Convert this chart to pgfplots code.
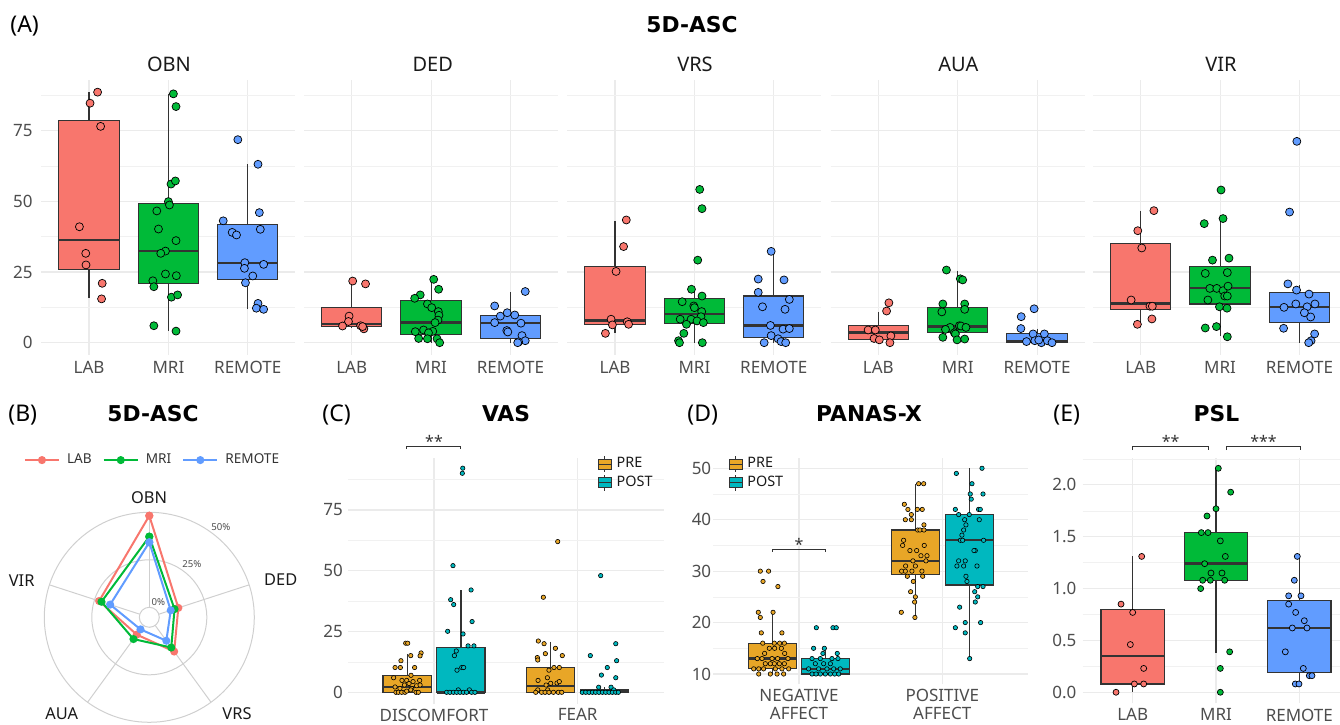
\documentclass[border=0pt]{standalone}
\usepackage{fontspec}
\setmainfont{Noto Sans}
\newfontfamily\tfont{DejaVu Sans}
\usepackage{pgfplots}
\pgfplotsset{compat=1.18}
\usepgfplotslibrary{statistics}
\definecolor{LABc}{HTML}{F8766D}
\definecolor{MRIc}{HTML}{00BA38}
\definecolor{REMc}{HTML}{619CFF}
\definecolor{PREc}{HTML}{E8A627}
\definecolor{POSTc}{HTML}{00B8BF}
\definecolor{gridc}{HTML}{EBEBEB}
\definecolor{tickc}{HTML}{4D4D4D}
\definecolor{boxc}{HTML}{333333}
\definecolor{circc}{HTML}{CFCFCF}
\definecolor{titc}{HTML}{1A1A1A}
\pgfplotsset{
 base/.style={scale only axis, clip=false,
   axis line style={draw=none}, tick style={draw=none}, major tick length=0pt, minor tick length=0pt,
   xmajorgrids, ymajorgrids, yminorgrids,
   major grid style={draw=gridc, line width=0.55pt},
   minor grid style={draw=gridc!70!white, line width=0.3pt},
   tick label style={font=\fontsize{8.5}{10}\selectfont, text=tickc},
   xticklabel style={anchor=north, inner sep=0pt},
   yticklabel style={anchor=east, inner sep=0pt},
   boxplot/draw direction=y,
   boxplot/every median/.style={line width=1.2pt},
 },
 bx/.style={forget plot, fill=#1, draw=boxc, line width=0.55pt},
 pts/.style={forget plot, only marks, mark=*, mark size=2pt, mark options={fill=#1, draw=black, line width=0.35pt}},
 spts/.style={forget plot, only marks, mark=*, mark size=1.1pt, mark options={fill=#1, draw=black, line width=0.3pt}},
 mpts/.style={forget plot, only marks, mark=*, mark size=1.5pt, mark options={fill=#1, draw=black, line width=0.35pt}},
 preleg/.style={legend image code/.code={\draw[fill=PREc,draw=boxc,line width=0.4pt] (0pt,-2.5pt) rectangle (6.5pt,2.5pt); \draw[boxc,line width=0.4pt] (0pt,0pt)--(6.5pt,0pt) (3.25pt,2.5pt)--(3.25pt,4pt) (3.25pt,-2.5pt)--(3.25pt,-4pt);}},
 postleg/.style={legend image code/.code={\draw[fill=POSTc,draw=boxc,line width=0.4pt] (0pt,-2.5pt) rectangle (6.5pt,2.5pt); \draw[boxc,line width=0.4pt] (0pt,0pt)--(6.5pt,0pt) (3.25pt,2.5pt)--(3.25pt,4pt) (3.25pt,-2.5pt)--(3.25pt,-4pt);}},
 boxleg/.style={legend style={draw=none, fill=none, inner sep=0pt, font=\fontsize{7.2}{8}\selectfont, text=titc, row sep=0.5pt, nodes={inner sep=1pt}, /tikz/every odd column/.append style={column sep=1.5pt}}, legend cell align=left},
 top/.style={base, anchor=south west, width=127pt, height=137.5pt,
   xmin=-0.6, xmax=2.6, ymin=-4.35, ymax=92.9, xtick={0,1,2}, xticklabels={LAB,MRI,REMOTE},
   ytick={0,25,50,75}, minor ytick={12.5,37.5,62.5,87.5},
   xticklabel style={yshift=-2.85pt}, yticklabel style={xshift=-4.2pt}},
}
\newcommand{\ffacet}{\fontsize{10}{12}\selectfont}
\newcommand{\fbold}{\tfont\fontsize{10.9}{13}\selectfont\bfseries}
\newcommand{\fletter}{\fontsize{11.5}{13}\selectfont}
\begin{document}
\begin{tikzpicture}
\useasboundingbox (0,0) rectangle (670pt,362pt);
% titles
\node[anchor=base west, inner sep=0pt, font=\fletter] at (5pt,345.5pt) {(A)};
\node[anchor=base, inner sep=0pt, font=\fbold] at (346pt,345.5pt) {5D-ASC};
\node[anchor=base, inner sep=0pt, font=\ffacet, text=titc] at (84.5pt,326.15pt) {OBN};
\node[anchor=base, inner sep=0pt, font=\ffacet, text=titc] at (216.35pt,326.15pt) {DED};
\node[anchor=base, inner sep=0pt, font=\ffacet, text=titc] at (347.5pt,326.15pt) {VRS};
\node[anchor=base, inner sep=0pt, font=\ffacet, text=titc] at (479.15pt,326.15pt) {AUA};
\node[anchor=base, inner sep=0pt, font=\ffacet, text=titc] at (610.5pt,326.15pt) {VIR};
\node[anchor=base west, inner sep=0pt, font=\fletter] at (4pt,151pt) {(B)};
\node[anchor=base, inner sep=0pt, font=\fbold] at (76.5pt,151pt) {5D-ASC};
\node[anchor=base west, inner sep=0pt, font=\fletter] at (161pt,151pt) {(C)};
\node[anchor=base, inner sep=0pt, font=\fbold] at (253pt,151pt) {VAS};
\node[anchor=base west, inner sep=0pt, font=\fletter] at (343.5pt,151pt) {(D)};
\node[anchor=base, inner sep=0pt, font=\fbold] at (434.5pt,151pt) {PANAS-X};
\node[anchor=base west, inner sep=0pt, font=\fletter] at (526.5pt,151pt) {(E)};
\node[anchor=base, inner sep=0pt, font=\fbold] at (608.25pt,151pt) {PSL};

% ---------- OBN ----------
\begin{axis}[top, at={(20.7pt,184.5pt)}, yticklabels={0,25,50,75}]
\addplot[bx=LABc, boxplot prepared={draw position=0, box extend=0.76, whisker extend=0, lower whisker=15.7, lower quartile=25.95, median=36.3, upper quartile=78.5, upper whisker=88.6}] coordinates {};
\addplot[bx=MRIc, boxplot prepared={draw position=1, box extend=0.76, whisker extend=0, lower whisker=4.2, lower quartile=20.9, median=32.5, upper quartile=49.3, upper whisker=88.0}] coordinates {};
\addplot[bx=REMc, boxplot prepared={draw position=2, box extend=0.76, whisker extend=0, lower whisker=11.8, lower quartile=22.4, median=28.1, upper quartile=41.7, upper whisker=63.1}] coordinates {};
\addplot[pts=LABc] coordinates {(0.108,88.6)(0.013,84.7)(0.146,76.5)(-0.121,41.0)(-0.041,31.6)(-0.038,27.5)(0.166,21.0)(0.158,15.5)};
\addplot[pts=MRIc] coordinates {(1.063,88.0)(1.096,83.5)(1.033,56.1)(1.088,57.2)(1.0,49.9)(1.013,48.7)(0.854,46.6)(0.875,40.2)(1.096,36.1)(0.963,32.4)(0.904,31.6)(0.963,24.3)(1.1,23.7)(0.804,21.9)(0.817,19.8)(1.038,16.1)(1.116,16.9)(0.817,6.0)(1.096,4.1)};
\addplot[pts=REMc] coordinates {(1.875,71.8)(2.129,63.1)(2.146,46.0)(1.691,43.1)(1.804,39.0)(1.858,38.1)(2.158,40.1)(1.963,28.3)(1.958,26.3)(2.2,27.7)(2.063,23.6)(1.971,21.2)(2.129,13.9)(2.108,12.2)(2.2,11.8)};
\end{axis}
% ---------- DED ----------
\begin{axis}[top, at={(152.05pt,184.5pt)}, yticklabels={,,,}]
\addplot[bx=LABc, boxplot prepared={draw position=0, box extend=0.76, whisker extend=0, lower whisker=5.3, lower quartile=5.7, median=6.6, upper quartile=12.4, upper whisker=22.2}] coordinates {};
\addplot[bx=MRIc, boxplot prepared={draw position=1, box extend=0.76, whisker extend=0, lower whisker=0, lower quartile=2.9, median=7.1, upper quartile=14.8, upper whisker=22.5}] coordinates {};
\addplot[bx=REMc, boxplot prepared={draw position=2, box extend=0.76, whisker extend=0, lower whisker=0, lower quartile=1.5, median=7.0, upper quartile=9.7, upper whisker=17.8}] coordinates {};
\addplot[pts=LABc] coordinates {(0.012,21.8)(0.174,20.8)(-0.033,9.4)(-0.041,7.5)(-0.116,5.9)(0.112,6.0)(0.153,4.9)(0.137,5.7)};
\addplot[pts=MRIc] coordinates {(1.033,22.4)(1.095,18.9)(0.863,16.9)(0.793,15.7)(0.954,13.7)(1.008,12.4)(1.091,11.0)(1.099,9.7)(1.087,8.0)(1.05,7.1)(0.905,4.5)(0.801,3.9)(1.021,4.0)(0.967,3.5)(0.843,1.5)(0.954,1.4)(1.075,1.4)(1.108,0.0)};
\addplot[pts=REMc] coordinates {(2.186,18.1)(1.801,13.0)(1.872,9.4)(1.959,10.6)(2.054,9.8)(1.801,7.1)(2.132,6.9)(1.954,4.3)(1.967,3.8)(2.145,2.5)(2.186,0.7)(2.103,0.3)(2.091,0)};
\end{axis}
% ---------- VRS ----------
\begin{axis}[top, at={(283.7pt,184.5pt)}, yticklabels={,,,}]
\addplot[bx=LABc, boxplot prepared={draw position=0, box extend=0.76, whisker extend=0, lower whisker=3.6, lower quartile=6.3, median=7.8, upper quartile=27.1, upper whisker=43.1}] coordinates {};
\addplot[bx=MRIc, boxplot prepared={draw position=1, box extend=0.76, whisker extend=0, lower whisker=0, lower quartile=6.7, median=10.1, upper quartile=15.7, upper whisker=18.9}] coordinates {};
\addplot[bx=REMc, boxplot prepared={draw position=2, box extend=0.76, whisker extend=0, lower whisker=0, lower quartile=1.8, median=6.1, upper quartile=16.5, upper whisker=32.2}] coordinates {};
\addplot[pts=LABc] coordinates {(0.142,43.4)(0.108,34.0)(0.013,25.2)(-0.05,8.3)(-0.033,6.3)(0.154,7.4)(0.171,6.5)(-0.121,3.3)};
\addplot[pts=MRIc] coordinates {(1.067,54.2)(1.096,47.4)(1.042,29.2)(0.963,18.9)(1.096,16.5)(0.846,14.5)(0.992,13.0)(1.0,12.4)(1.092,11.0)(1.083,9.2)(0.821,8.3)(0.958,8.3)(1.033,7.7)(1.113,7.1)(0.9,6.5)(0.867,3.3)(0.8,0.7)(0.812,0)(1.1,0)};
\addplot[pts=REMc] coordinates {(1.967,32.3)(1.804,22.5)(2.129,22.2)(1.804,17.8)(2.196,15.3)(1.858,12.7)(2.142,11.8)(1.958,6.1)(2.117,4.8)(2.196,5.0)(1.967,2.5)(2.054,1.4)(2.092,0.4)(2.15,0)(1.879,0)};
\end{axis}
% ---------- AUA ----------
\begin{axis}[top, at={(415.35pt,184.5pt)}, yticklabels={,,,}]
\addplot[bx=LABc, boxplot prepared={draw position=0, box extend=0.76, whisker extend=0, lower whisker=0, lower quartile=1.2, median=3.6, upper quartile=6.1, upper whisker=11.0}] coordinates {};
\addplot[bx=MRIc, boxplot prepared={draw position=1, box extend=0.76, whisker extend=0, lower whisker=1.0, lower quartile=3.5, median=5.7, upper quartile=12.5, upper whisker=25.5}] coordinates {};
\addplot[bx=REMc, boxplot prepared={draw position=2, box extend=0.76, whisker extend=0, lower whisker=0, lower quartile=0, median=0.7, upper quartile=3.1, upper whisker=5.0}] coordinates {};
\addplot[pts=LABc] coordinates {(0.133,14.1)(0.104,11.2)(-0.129,4.5)(-0.038,4.5)(0.158,2.4)(-0.054,1.5)(0.013,1.0)(0.146,0)};
\addplot[pts=MRIc] coordinates {(0.858,25.7)(1.033,22.6)(1.063,22.2)(0.813,13.7)(1.088,13.7)(0.8,10.9)(1.088,11.8)(0.904,5.4)(1.021,6.0)(1.042,5.9)(1.104,5.4)(0.846,4.7)(0.958,3.5)(0.971,3.1)(0.813,1.9)(0.992,1.0)(1.088,1.3)};
\addplot[pts=REMc] coordinates {(1.963,12.0)(1.8,9.2)(1.796,5.0)(1.95,3.1)(2.092,3.1)(1.867,0.4)(1.971,0.7)(2.054,0)(2.129,0.7)(2.188,0)(2.021,0.95)};
\end{axis}
% ---------- VIR ----------
\begin{axis}[top, at={(546.55pt,184.5pt)}, yticklabels={,,,}]
\addplot[bx=LABc, boxplot prepared={draw position=0, box extend=0.76, whisker extend=0, lower whisker=6.5, lower quartile=11.8, median=13.9, upper quartile=35.1, upper whisker=46.6}] coordinates {};
\addplot[bx=MRIc, boxplot prepared={draw position=1, box extend=0.76, whisker extend=0, lower whisker=2.4, lower quartile=13.7, median=19.3, upper quartile=26.8, upper whisker=44.2}] coordinates {};
\addplot[bx=REMc, boxplot prepared={draw position=2, box extend=0.76, whisker extend=0, lower whisker=0, lower quartile=7.0, median=12.6, upper quartile=17.8, upper whisker=20.4}] coordinates {};
\addplot[pts=LABc] coordinates {(0.166,46.7)(-0.037,39.6)(0.013,33.5)(-0.121,15.1)(0.116,12.9)(0.146,12.9)(0.141,8.4)(-0.042,6.5)};
\addplot[pts=MRIc] coordinates {(1.012,54.0)(0.8,42.1)(1.037,43.9)(0.904,29.2)(1.112,29.9)(0.813,24.5)(1.091,24.8)(0.871,19.2)(0.958,19.2)(1.037,18.4)(1.1,20.0)(1.058,16.5)(1.091,16.5)(0.846,15.1)(0.992,12.7)(1.087,12.2)(0.813,5.2)(0.954,5.7)(1.091,2.1)};
\addplot[pts=REMc] coordinates {(1.967,71.2)(1.875,46.2)(1.854,20.8)(1.963,18.6)(2.12,17.2)(2.195,13.7)(1.954,13.7)(2.096,12.7)(1.805,12.5)(2.062,10.6)(2.141,9.1)(1.8,5.1)(2.191,3.1)(2.146,0.7)(2.116,0)};
\end{axis}

% ---------- RADAR ----------
\begin{axis}[at={(14.65pt,-6.65pt)}, anchor=south west, scale only axis, width=120pt, height=120pt,
  xmin=-120, xmax=120, ymin=-120, ymax=120, hide axis, clip=false,
  legend columns=3,
  legend style={at={(0.5175,1.155)}, anchor=center, draw=none, fill=none, font=\fontsize{6.8}{8}\selectfont, text=boxc,
    /tikz/every odd column/.append style={column sep=1.5pt}, /tikz/every even column/.append style={column sep=3.5pt}}]
\draw[circc, line width=0.5pt] (axis cs:0,0) circle[radius=5pt];
\draw[circc, line width=0.5pt] (axis cs:0,0) circle[radius=28.75pt];
\draw[circc, line width=0.5pt] (axis cs:0,0) circle[radius=52.5pt];
\draw[circc, line width=0.5pt] (axis cs:{10*cos(90)},{10*sin(90)}) -- (axis cs:{105*cos(90)},{105*sin(90)});
\draw[circc, line width=0.5pt] (axis cs:{10*cos(18)},{10*sin(18)}) -- (axis cs:{105*cos(18)},{105*sin(18)});
\draw[circc, line width=0.5pt] (axis cs:{10*cos(-54)},{10*sin(-54)}) -- (axis cs:{105*cos(-54)},{105*sin(-54)});
\draw[circc, line width=0.5pt] (axis cs:{10*cos(-126)},{10*sin(-126)}) -- (axis cs:{105*cos(-126)},{105*sin(-126)});
\draw[circc, line width=0.5pt] (axis cs:{10*cos(162)},{10*sin(162)}) -- (axis cs:{105*cos(162)},{105*sin(162)});
\addplot[LABc, line width=1pt, mark=*, mark size=1.5pt, mark options={fill=LABc, draw=LABc}]
 table[x expr={(10+1.9*\thisrow{p})*cos(\thisrow{a})}, y expr={(10+1.9*\thisrow{p})*sin(\thisrow{a})}] {
a p
90 48.2
18 10.8
-54 17.0
-126 6.0
162 22.5
90 48.2
};
\addlegendentry{LAB}
\addplot[MRIc, line width=1pt, mark=*, mark size=1.5pt, mark options={fill=MRIc, draw=MRIc}]
 table[x expr={(10+1.9*\thisrow{p})*cos(\thisrow{a})}, y expr={(10+1.9*\thisrow{p})*sin(\thisrow{a})}] {
a p
90 37.2
18 8.7
-54 14.4
-126 8.9
162 21.2
90 37.2
};
\addlegendentry{MRI}
\addplot[REMc, line width=1pt, mark=*, mark size=1.5pt, mark options={fill=REMc, draw=REMc}]
 table[x expr={(10+1.9*\thisrow{p})*cos(\thisrow{a})}, y expr={(10+1.9*\thisrow{p})*sin(\thisrow{a})}] {
a p
90 34.2
18 6.6
-54 10.0
-126 2.6
162 16.4
90 34.2
};
\addlegendentry{REMOTE}
\node[anchor=base, inner sep=0pt, font=\fontsize{8.2}{10}\selectfont, text=titc] at (axis cs:-0.3,113.3) {OBN};
\node[anchor=base, inner sep=0pt, font=\fontsize{8.2}{10}\selectfont, text=titc] at (axis cs:131.4,31.3) {DED};
\node[anchor=base, inner sep=0pt, font=\fontsize{8.2}{10}\selectfont, text=titc] at (axis cs:87.7,-102.7) {VRS};
\node[anchor=base, inner sep=0pt, font=\fontsize{8.2}{10}\selectfont, text=titc] at (axis cs:-87.6,-102.7) {AUA};
\node[anchor=base, inner sep=0pt, font=\fontsize{8.2}{10}\selectfont, text=titc] at (axis cs:-127.6,30.6) {VIR};
\node[inner sep=0pt, font=\fontsize{4.8}{6}\selectfont, text=tickc] at (axis cs:71.5,90.3) {50\%};
\node[inner sep=0pt, font=\fontsize{4.8}{6}\selectfont, text=tickc] at (axis cs:42.5,53) {25\%};
\node[inner sep=0pt, font=\fontsize{4.8}{6}\selectfont, text=tickc] at (axis cs:9,14.8) {0\%};
\end{axis}

% ---------- VAS ----------
\begin{axis}[base, boxleg, at={(173.9pt,10.25pt)}, anchor=south west, width=158.05pt, height=122.65pt,
  xmin=-0.6, xmax=1.6, ymin=-4.6, ymax=96.3, xtick={0,1}, xticklabels={DISCOMFORT,FEAR},
  ytick={0,25,50,75}, yticklabels={0,25,50,75}, minor ytick={12.5,37.5,62.5,87.5},
  xticklabel style={yshift=-2.4pt}, yticklabel style={xshift=-2.25pt},
  legend style={at={(0.79,1.012)}, anchor=north west}]
\addlegendimage{preleg}\addlegendentry{PRE}
\addlegendimage{postleg}\addlegendentry{POST}
\addplot[bx=PREc, boxplot prepared={draw position=-0.1875, box extend=0.335, whisker extend=0, lower whisker=0, lower quartile=0, median=2.2, upper quartile=6.9, upper whisker=15.9}] coordinates {};
\addplot[bx=POSTc, boxplot prepared={draw position=0.1875, box extend=0.335, whisker extend=0, lower whisker=0, lower quartile=0, median=0, upper quartile=18.5, upper whisker=42.1}] coordinates {};
\addplot[bx=PREc, boxplot prepared={draw position=0.8125, box extend=0.335, whisker extend=0, lower whisker=0, lower quartile=0, median=2.7, upper quartile=10.2, upper whisker=20.9}] coordinates {};
\addplot[bx=POSTc, boxplot prepared={draw position=1.1875, box extend=0.335, whisker extend=0, lower whisker=0, lower quartile=0, median=0.4, upper quartile=1.0, upper whisker=2.1}] coordinates {};
\addplot[spts=PREc] coordinates {(-0.197,20.2)(-0.183,20.2)(-0.090,16.2)(-0.097,15.0)(-0.162,15.1)(-0.230,13.0)(-0.271,10.2)(-0.234,10.2)(-0.135,10.2)(-0.160,7.0)(-0.281,6.0)(-0.223,4.9)(-0.190,4.9)(-0.146,4.4)(-0.100,4.9)(-0.174,3.6)(-0.271,2.2)(-0.237,1.6)(-0.206,3.0)(-0.121,2.7)(-0.097,3.0)(-0.155,1.6)(-0.265,0)(-0.248,0)(-0.225,0)(-0.202,0)(-0.162,1.0)(-0.125,0)(-0.109,0)(-0.190,0.5)};
\addplot[spts=POSTc] coordinates {(0.200,92.2)(0.197,90.1)(0.132,52.1)(0.258,42.1)(0.116,38.1)(0.137,36.1)(0.265,29.1)(0.202,24.0)(0.095,25.1)(0.237,19.1)(0.278,19.1)(0.155,17.0)(0.142,15.1)(0.193,10.2)(0.206,10.2)(0.160,9.1)(0.169,1.0)(0.246,1.0)(0.088,0)(0.111,0)(0.135,0)(0.158,0)(0.181,0)(0.204,0)(0.227,0)(0.262,0)(0.285,0)};
\addplot[spts=PREc] coordinates {(0.861,62.0)(0.761,39.1)(0.726,21.1)(0.766,20.0)(0.845,18.1)(0.775,15.9)(0.893,15.1)(0.719,14.3)(0.722,13.3)(0.835,10.2)(0.872,10.2)(0.800,9.1)(0.724,4.9)(0.789,6.0)(0.812,3.7)(0.856,3.8)(0.872,4.4)(0.780,3.0)(0.722,1.0)(0.791,1.0)(0.708,0)(0.749,0)(0.773,0)(0.800,0)(0.831,0)(0.865,0)(0.889,0)};
\addplot[spts=POSTc] coordinates {(1.160,48.0)(1.265,20.0)(1.088,15.1)(1.271,13.0)(1.206,10.2)(1.165,7.1)(1.265,6.0)(1.146,2.1)(1.232,2.1)(1.251,1.0)(1.032,0)(1.056,0)(1.079,0)(1.102,0)(1.125,0)(1.148,0)(1.172,0)(1.195,0)(1.218,0)(1.241,0)(1.265,0)(1.283,0)};
\draw[boxc, line width=0.5pt] (axis cs:-0.19,100.0) -- (axis cs:-0.19,101.1) -- (axis cs:0.1875,101.1) -- (axis cs:0.1875,100.0);
\node[anchor=base, inner sep=0pt, font=\fontsize{8}{9}\selectfont, text=boxc] at (axis cs:0,100.6) {**};
\end{axis}

% ---------- PANAS-X ----------
\begin{axis}[base, boxleg, at={(356.5pt,19.85pt)}, anchor=south west, width=157.65pt, height=113.15pt,
  xmin=-0.6, xmax=1.6, ymin=8, ymax=52, xtick={0,1}, xticklabels={{NEGATIVE\\AFFECT},{POSITIVE\\AFFECT}},
  ytick={10,20,30,40,50}, yticklabels={10,20,30,40,50}, minor ytick={15,25,35,45},
  xticklabel style={yshift=-2pt, align=center, font=\fontsize{8.5}{9}\selectfont}, yticklabel style={xshift=-0.7pt},
  legend style={at={(0.048,1.012)}, anchor=north west}]
\addlegendimage{preleg}\addlegendentry{PRE}
\addlegendimage{postleg}\addlegendentry{POST}
\addplot[bx=PREc, boxplot prepared={draw position=-0.1875, box extend=0.335, whisker extend=0, lower whisker=10, lower quartile=11, median=13, upper quartile=16, upper whisker=22}] coordinates {};
\addplot[bx=POSTc, boxplot prepared={draw position=0.1875, box extend=0.335, whisker extend=0, lower whisker=10, lower quartile=10, median=11, upper quartile=13, upper whisker=15}] coordinates {};
\addplot[bx=PREc, boxplot prepared={draw position=0.8125, box extend=0.335, whisker extend=0, lower whisker=21, lower quartile=29.4, median=32, upper quartile=38, upper whisker=47}] coordinates {};
\addplot[bx=POSTc, boxplot prepared={draw position=1.1875, box extend=0.335, whisker extend=0, lower whisker=13, lower quartile=27.3, median=36, upper quartile=41, upper whisker=50}] coordinates {};
\addplot[spts=PREc] coordinates {(-0.270,30)(-0.212,30)(-0.251,28)(-0.147,27)(-0.284,22)(-0.181,22)(-0.270,21)(-0.263,18)(-0.119,18)(-0.253,16)(-0.172,16)(-0.135,16)(-0.102,16)(-0.240,14)(-0.207,15)(-0.170,15)(-0.123,15)(-0.100,14)(-0.291,13)(-0.258,13)(-0.188,13)(-0.149,13)(-0.077,13)(-0.235,12)(-0.200,12)(-0.172,12)(-0.137,12)(-0.102,12)(-0.316,11)(-0.281,11)(-0.247,11)(-0.165,11)(-0.119,11)(-0.072,11)(-0.281,10)(-0.200,10)(-0.153,10)(-0.107,10)};
\addplot[spts=POSTc] coordinates {(0.121,19)(0.237,19)(0.260,19)(0.102,15)(0.177,15)(0.167,14)(0.267,14)(0.091,13)(0.149,13)(0.230,13)(0.272,13)(0.114,12)(0.172,12)(0.219,12)(0.067,11)(0.137,11)(0.195,11)(0.242,11)(0.288,11)(0.091,10)(0.119,10)(0.149,10)(0.184,10)(0.219,10)(0.249,10)(0.277,10)};
\addplot[spts=PREc] coordinates {(0.835,47)(0.870,47)(0.735,43)(0.760,42)(0.826,42)(0.860,42)(0.784,41)(0.742,40)(0.784,40)(0.872,39)(0.828,38)(0.844,38)(0.872,38)(0.730,36)(0.723,35)(0.874,35)(0.774,34)(0.821,34)(0.795,32)(0.851,33)(0.893,33)(0.886,32)(0.744,31)(0.812,31)(0.716,30)(0.742,30)(0.788,30)(0.858,30)(0.756,29)(0.863,29)(0.798,28)(0.779,26)(0.812,25)(0.807,24)(0.714,22)(0.809,21)};
\addplot[spts=POSTc] coordinates {(1.277,50)(1.098,49)(1.207,47)(1.195,45)(1.284,45)(1.202,44)(1.091,42)(1.253,42)(1.265,42)(1.114,41)(1.188,41)(1.258,40)(1.156,40)(1.165,39)(1.149,38)(1.137,37)(1.126,36)(1.142,36)(1.288,36)(1.230,34)(1.221,34)(1.114,32)(1.160,32)(1.102,31)(1.149,31)(1.242,31)(1.165,29)(1.172,28)(1.247,27)(1.284,27)(1.226,26)(1.247,25)(1.230,24)(1.121,23)(1.160,20)(1.267,20)(1.091,19)(1.160,18)(1.191,13)};
\draw[boxc, line width=0.5pt] (axis cs:-0.1875,33.8) -- (axis cs:-0.1875,34.25) -- (axis cs:0.1875,34.25) -- (axis cs:0.1875,33.8);
\node[anchor=base, inner sep=0pt, font=\fontsize{8}{9}\selectfont, text=boxc] at (axis cs:0,34.1) {*};
\end{axis}

% ---------- PSL ----------
\begin{axis}[base, at={(541.35pt,10.3pt)}, anchor=south west, width=133.3pt, height=122.6pt,
  xmin=-0.6, xmax=2.6, ymin=-0.1075, ymax=2.2575, xtick={0,1,2}, xticklabels={LAB,MRI,REMOTE},
  ytick={0,0.5,1,1.5,2}, yticklabels={0.0,0.5,1.0,1.5,2.0}, minor ytick={0.25,0.75,1.25,1.75,2.25},
  xticklabel style={yshift=-2.45pt}, yticklabel style={xshift=-3pt}]
\addplot[bx=LABc, boxplot prepared={draw position=0, box extend=0.76, whisker extend=0, lower whisker=0, lower quartile=0.08, median=0.35, upper quartile=0.794, upper whisker=1.31}] coordinates {};
\addplot[bx=MRIc, boxplot prepared={draw position=1, box extend=0.76, whisker extend=0, lower whisker=0.38, lower quartile=1.08, median=1.24, upper quartile=1.54, upper whisker=2.16}] coordinates {};
\addplot[bx=REMc, boxplot prepared={draw position=2, box extend=0.76, whisker extend=0, lower whisker=0.08, lower quartile=0.19, median=0.617, upper quartile=0.887, upper whisker=1.31}] coordinates {};
\addplot[mpts=LABc] coordinates {(0.108,1.31)(-0.140,0.85)(0,0.77)(-0.028,0.46)(0.132,0.23)(0.02,0.08)(0.132,0.08)(-0.2,0)};
\addplot[mpts=MRIc] coordinates {(1.028,2.16)(1.176,1.93)(1.0,1.77)(0.892,1.70)(0.824,1.54)(0.904,1.54)(1.052,1.46)(1.112,1.31)(0.864,1.24)(0.940,1.15)(1.072,1.15)(0.840,1.08)(0.932,1.08)(1.104,1.08)(0.816,1.0)(1.164,0.39)(1.052,0.23)(1.052,0)};
\addplot[mpts=REMc] coordinates {(1.976,1.31)(1.94,1.08)(1.872,0.93)(2.02,0.93)(1.872,0.85)(1.956,0.77)(2.06,0.69)(1.916,0.62)(2.092,0.62)(1.832,0.39)(2.048,0.23)(2.12,0.16)(2.152,0.16)(1.952,0.08)(1.996,0.08)};
\draw[boxc, line width=0.5pt] (axis cs:0,2.336) -- (axis cs:0,2.368) -- (axis cs:0.91,2.368) -- (axis cs:0.91,2.336);
\draw[boxc, line width=0.5pt] (axis cs:1.13,2.336) -- (axis cs:1.13,2.368) -- (axis cs:2.01,2.368) -- (axis cs:2.01,2.336);
\node[anchor=base, inner sep=0pt, font=\fontsize{8}{9}\selectfont, text=boxc] at (axis cs:0.455,2.357) {**};
\node[anchor=base, inner sep=0pt, font=\fontsize{8}{9}\selectfont, text=boxc] at (axis cs:1.57,2.357) {***};
\end{axis}
\end{tikzpicture}
\end{document}
